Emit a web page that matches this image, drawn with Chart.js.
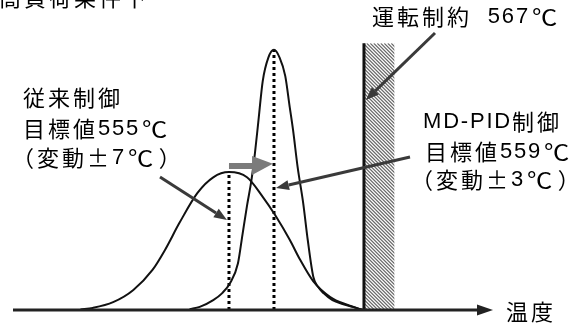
<!DOCTYPE html>
<html lang="ja">
<head>
<meta charset="utf-8">
<script src="https://cdn.jsdelivr.net/npm/chart.js@4.4.1/dist/chart.umd.min.js"></script>
<style>
  html, body { margin: 0; padding: 0; background: #fff; }
  #wrap { width: 580px; height: 323px; }
</style>
</head>
<body>
<div id="wrap"><canvas id="dist" width="580" height="323"></canvas></div>
<script>
// temperatures (°C) and relative frequency
const wideTemps = [541.8, 542.9, 544.7, 546.5, 548.2, 549.3, 550.6, 552.2, 553.6, 555.0, 556.6, 558.0, 559.1, 560.4, 561.3, 562.5, 564.0, 565.5, 566.9];
const wideFreq  = [0.2, 0.8, 3, 7.7, 15.4, 23, 33.5, 45, 51, 53, 51, 43.5, 36.5, 27, 19.5, 11, 5, 2, 0];

const narrowTemps = [551.5, 552.4, 553.6, 554.4, 555.1, 555.8, 556.2, 556.6, 557.0, 557.3, 557.6, 558.0, 558.5, 559.0, 559.5, 560.0, 560.4, 560.7, 561.1, 561.6, 562.0, 562.5, 562.9, 563.4, 564.2, 565.1, 566.0, 566.9];
const narrowFreq  = [0.3, 1.2, 3.8, 6.5, 10.4, 18, 29, 40, 50, 60, 72, 88, 97, 100, 97, 90, 78, 69, 55, 41, 27, 12.7, 9, 6.5, 3.8, 2.3, 1.2, 0];

const targetTemps = [555, 559];
const targetPeaks = [53, 100];
const constraintTemp = 567;

const toPoints = (xs, ys) => xs.map((x, i) => ({ x: x, y: ys[i] }));

const curveStyle = {
  borderColor: '#111',
  borderWidth: 2,
  pointRadius: 0,
  fill: false,
  cubicInterpolationMode: 'monotone'
};

const dotStyle = {
  borderColor: '#000',
  borderWidth: 3,
  borderDash: [3, 3],
  borderCapStyle: 'butt',
  pointRadius: 0,
  fill: false
};

function arrow(ctx, x1, y1, x2, y2, color, width, headLen, headW) {
  const ang = Math.atan2(y2 - y1, x2 - x1);
  const bx = x2 - headLen * Math.cos(ang);
  const by = y2 - headLen * Math.sin(ang);
  ctx.strokeStyle = color;
  ctx.fillStyle = color;
  ctx.lineWidth = width;
  ctx.beginPath();
  ctx.moveTo(x1, y1);
  ctx.lineTo(bx, by);
  ctx.stroke();
  ctx.beginPath();
  ctx.moveTo(x2, y2);
  ctx.lineTo(bx + headW * Math.sin(ang), by - headW * Math.cos(ang));
  ctx.lineTo(bx - headW * Math.sin(ang), by + headW * Math.cos(ang));
  ctx.closePath();
  ctx.fill();
}

// latin runs in an Arial-like face, japanese runs in the CJK face
function label(ctx, str, x, y) {
  const runs = str.match(/[\x20-\x7e]+|℃|[^\x20-\x7e℃]+/g) || [];
  let cx = x;
  runs.forEach(run => {
    const latin = /^[\x20-\x7e]+$/.test(run);
    ctx.font = latin ? '22px "Liberation Sans", sans-serif' : '22px "Noto Sans CJK JP", sans-serif';
    ctx.letterSpacing = latin ? '1.8px' : '3px';
    if (run === '℃') {
      cx += 2;
      ctx.save();
      ctx.translate(cx, y);
      ctx.scale(1.15, 1);
      ctx.fillText(run, 0, 0);
      ctx.restore();
      cx += ctx.measureText(run).width * 1.15 + 2;
      return;
    }
    ctx.fillText(run, cx, y);
    cx += ctx.measureText(run).width;
  });
}

const overlay = {
  id: 'overlay',
  beforeDatasetsDraw(chart) {
    const { ctx, scales: { x, y } } = chart;
    const x0 = x.getPixelForValue(constraintTemp);
    const x1 = x.getPixelForValue(569.7);
    const yTop = y.getPixelForValue(102.5);
    const yBot = y.getPixelForValue(0);

    // hatched constraint band
    ctx.save();
    ctx.beginPath();
    ctx.rect(x0, yTop, x1 - x0, yBot - yTop);
    ctx.clip();
    ctx.strokeStyle = '#6a6a6a';
    ctx.lineWidth = 1.2;
    const h = yBot - yTop;
    ctx.beginPath();
    for (let k = -h; k < (x1 - x0) + 4; k += 3.5) {
      ctx.moveTo(x0 + k, yTop);
      ctx.lineTo(x0 + k + h, yBot);
    }
    ctx.stroke();
    ctx.restore();

    ctx.save();
    ctx.strokeStyle = '#111';
    ctx.lineWidth = 3;
    ctx.beginPath();
    ctx.moveTo(x0, yTop);
    ctx.lineTo(x0, yBot);
    ctx.stroke();
    ctx.restore();
  },
  afterDatasetsDraw(chart) {
    const { ctx, chartArea, scales: { x, y } } = chart;
    const y0 = y.getPixelForValue(0);

    ctx.save();
    // temperature axis with arrow
    arrow(ctx, chartArea.left, y0, chartArea.right, y0, '#222', 3, 16, 5.5);

    // grey shift arrow between the two targets
    const sx0 = x.getPixelForValue(555), sx1 = x.getPixelForValue(557.05), sx2 = x.getPixelForValue(558.9);
    ctx.fillStyle = '#7b7b7b';
    ctx.beginPath();
    ctx.moveTo(sx0, y.getPixelForValue(56.5));
    ctx.lineTo(sx1, y.getPixelForValue(56.5));
    ctx.lineTo(sx1, y.getPixelForValue(59.2));
    ctx.lineTo(sx2, y.getPixelForValue(56.2));
    ctx.lineTo(sx1, y.getPixelForValue(51.9));
    ctx.lineTo(sx1, y.getPixelForValue(54.2));
    ctx.lineTo(sx0, y.getPixelForValue(54.2));
    ctx.closePath();
    ctx.fill();

    // callout arrows
    arrow(ctx, 435, 33, x.getPixelForValue(constraintTemp) + 2, 100, '#3a3a3a', 3, 13, 5);
    arrow(ctx, 410, 157, x.getPixelForValue(559) + 2, 188, '#3a3a3a', 3, 13, 5);
    arrow(ctx, 160, 177, x.getPixelForValue(555) - 2, 220, '#3a3a3a', 3, 13, 5);

    // labels
    ctx.fillStyle = '#000';
    ctx.textBaseline = 'middle';
    ctx.textAlign = 'left';
    label(ctx, '高負荷条件下', -1, -2);
    label(ctx, '運転制約  567℃', 372, 17);
    label(ctx, '従来制御', 23, 98);
    label(ctx, '目標値555℃', 23, 129);
    label(ctx, '（変動±7℃）', 12, 158);
    label(ctx, 'MD-PID制御', 423, 122);
    label(ctx, '目標値559℃', 425, 152);
    label(ctx, '（変動±3℃）', 411, 180);
    label(ctx, '温度', 506, 312);
    ctx.restore();
  }
};

new Chart(document.getElementById('dist'), {
  type: 'line',
  data: {
    datasets: [
      { ...curveStyle, label: '従来制御', data: toPoints(wideTemps, wideFreq) },
      { ...curveStyle, label: 'MD-PID制御', data: toPoints(narrowTemps, narrowFreq) },
      { ...dotStyle, label: '目標値555', data: [{ x: targetTemps[0], y: 0 }, { x: targetTemps[0], y: targetPeaks[0] }] },
      { ...dotStyle, label: '目標値559', data: [{ x: targetTemps[1], y: 0 }, { x: targetTemps[1], y: targetPeaks[1] }] }
    ]
  },
  options: {
    responsive: false,
    animation: false,
    layout: { padding: { left: 13, right: 87, top: 42, bottom: 13 } },
    scales: {
      x: { type: 'linear', min: 535.8, max: 578.47, display: false },
      y: { min: 0, max: 103, display: false }
    },
    plugins: {
      legend: { display: false },
      tooltip: { enabled: false }
    }
  },
  plugins: [overlay]
});
</script>
</body>
</html>
